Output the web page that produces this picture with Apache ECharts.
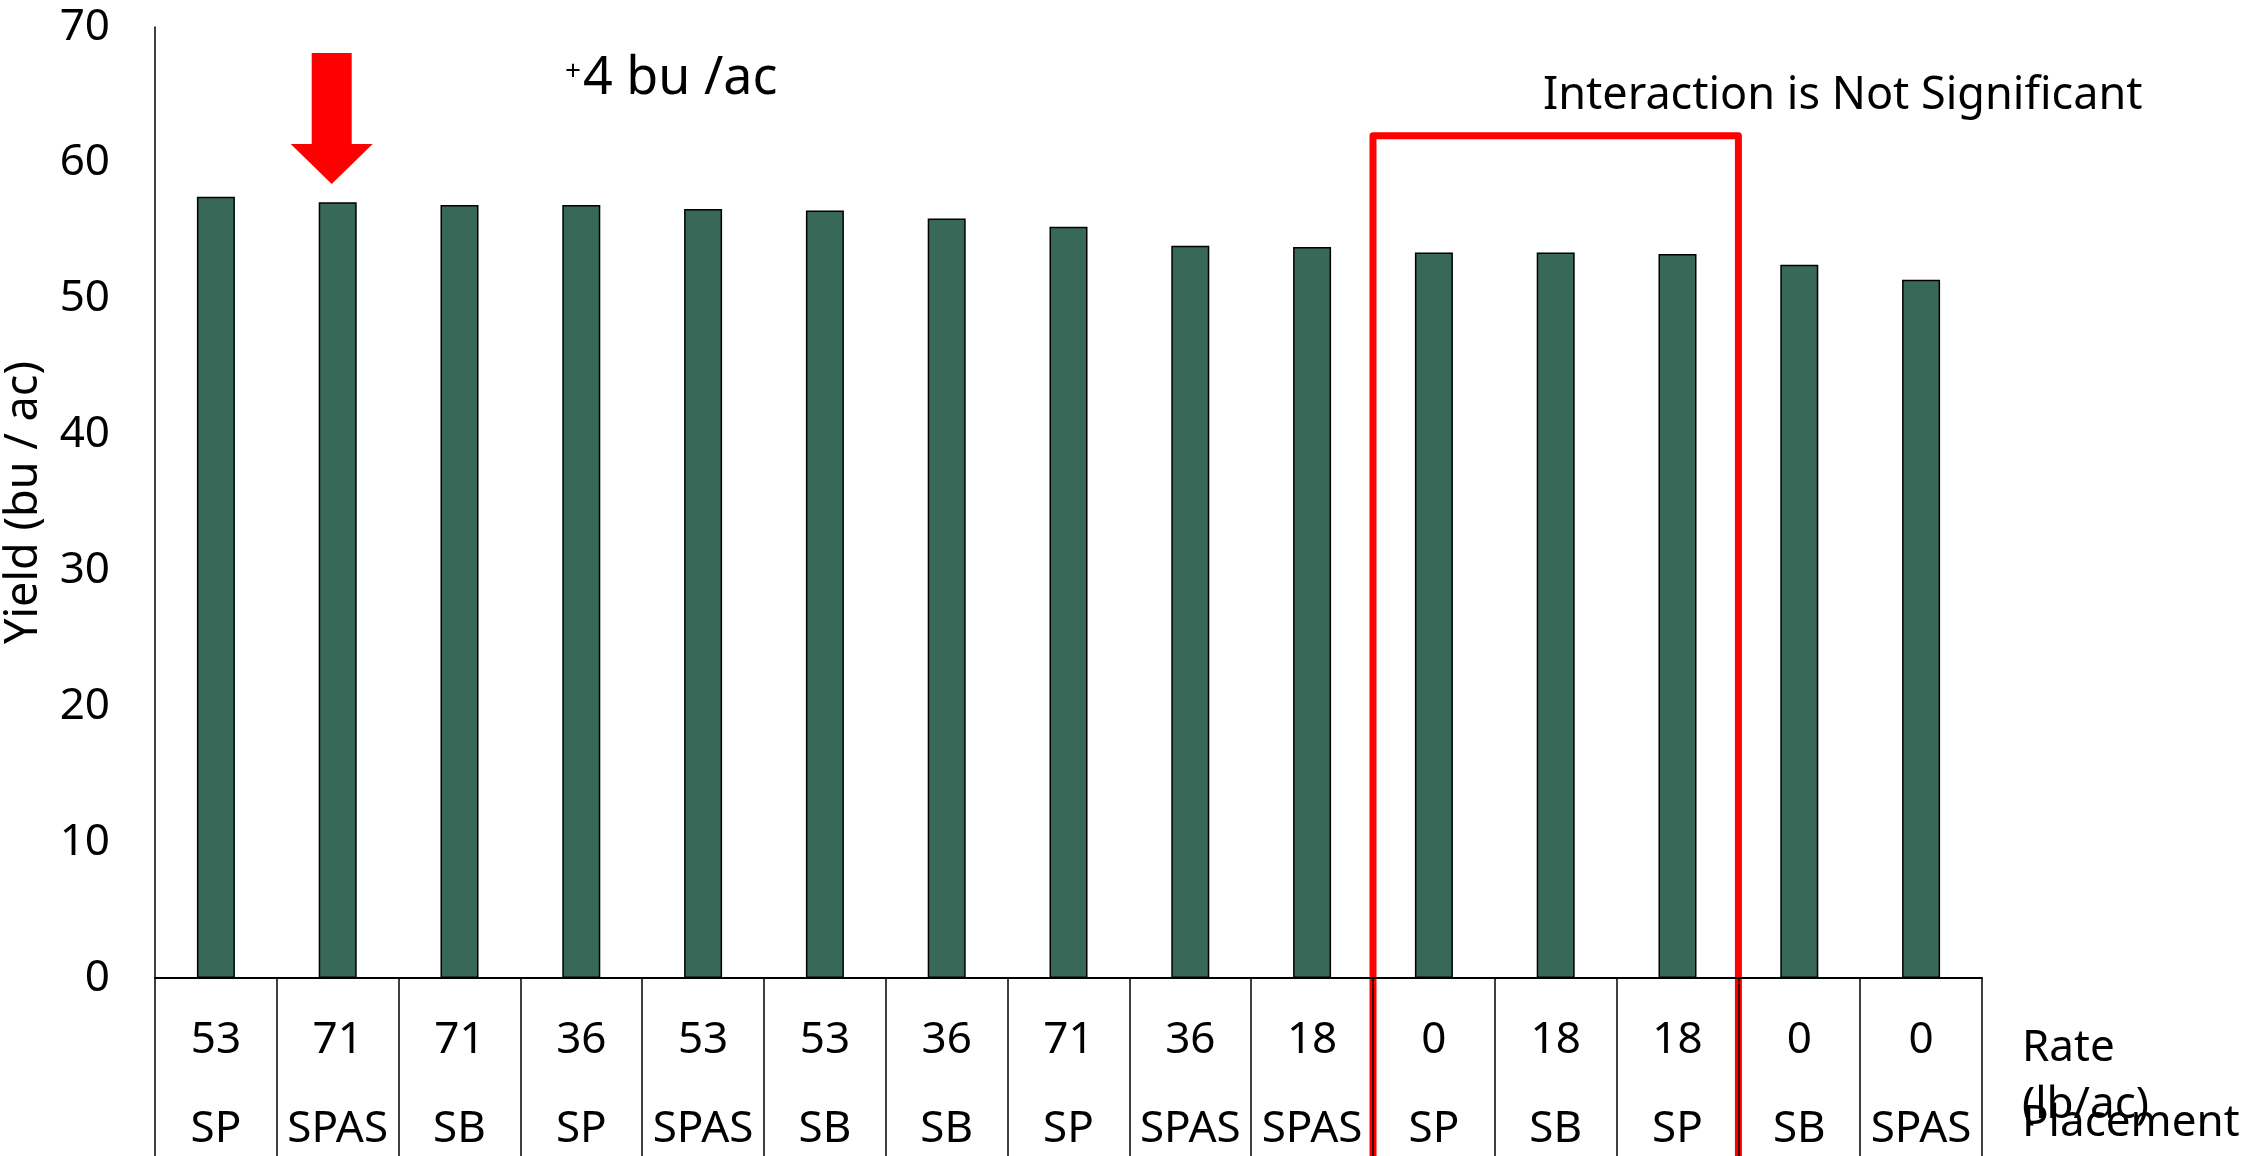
<!DOCTYPE html>
<html>
<head>
<meta charset="utf-8">
<script src="https://cdn.jsdelivr.net/npm/echarts@6/dist/echarts.min.js"></script>
<style>
  html, body { margin: 0; padding: 0; background: #fff; }
  #chart { width: 2243px; height: 1156px; }
</style>
</head>
<body>
<div id="chart"></div>
<script>
// rate (lb/ac) and placement for each treatment, left to right
const rates = ['53', '71', '71', '36', '53', '53', '36', '71', '36', '18', '0', '18', '18', '0', '0'];
const placements = ['SP', 'SPAS', 'SB', 'SP', 'SPAS', 'SB', 'SB', 'SP', 'SPAS', 'SPAS', 'SP', 'SB', 'SP', 'SB', 'SPAS'];
// yield, bu / ac
const yields = [57.5, 57.1, 56.9, 56.9, 56.6, 56.5, 55.9, 55.3, 53.9, 53.8, 53.4, 53.4, 53.3, 52.5, 51.4];

const yMin = 0;
const yMax = 70;
const yStep = 10;

// annotations
const arrowIndex = 1;            // points at 71 SPAS
const boxFrom = 10, boxTo = 12;  // red box round 0 SP .. 18 SP
const boxTopValue = 62;

const categories = rates.map((r, i) => r + '\n' + placements[i]);
const font = 'Noto Sans';

const myChart = echarts.init(document.getElementById('chart'));

const option = {
  animation: false,
  textStyle: { fontFamily: font },
  grid: {
    left: 155,
    right: 261,
    top: 27,
    bottom: 178,
    outerBoundsMode: 'none'  // keep the plot where it is, labels may run off the page
  },
  xAxis: {
    type: 'category',
    data: categories,
    boundaryGap: true,
    axisLine: {
      show: true,
      lineStyle: { color: '#000', width: 2 }
    },
    axisTick: {
      show: true,
      length: 190,   // tick lines run down as the table separators
      lineStyle: { color: '#000', width: 1.5 }
    },
    axisLabel: {
      interval: 0,
      color: '#000',
      fontSize: 44,
      fontFamily: font,
      lineHeight: 89,
      margin: 18
    }
  },
  yAxis: {
    type: 'value',
    min: yMin,
    max: yMax,
    interval: yStep,
    name: 'Yield (bu / ac)',
    nameLocation: 'middle',
    nameGap: 108,
    nameTextStyle: { color: '#000', fontSize: 45, fontFamily: font },
    axisLine: {
      show: true,
      lineStyle: { color: '#000', width: 1.5 }
    },
    axisTick: { show: false },
    splitLine: { show: false },
    axisLabel: {
      color: '#000',
      fontSize: 44,
      fontFamily: font,
      margin: 45
    }
  },
  series: [
    {
      type: 'bar',
      data: yields,
      barWidth: 38,
      itemStyle: {
        color: '#386857',
        borderColor: '#000',
        borderWidth: 1.5
      }
    }
  ]
};

myChart.setOption(option);

// annotations placed from the axes' own scales
const px = (i, v) => myChart.convertToPixel({ xAxisIndex: 0, yAxisIndex: 0 }, [i, v]);
const band = px(1, 0)[0] - px(0, 0)[0];
const arrowX = px(arrowIndex, 0)[0] - 6;
const boxLeft = px(boxFrom, 0)[0] - band / 2;
const boxRight = px(boxTo, 0)[0] + band / 2;
const boxTop = px(0, boxTopValue)[1];

myChart.setOption({
  graphic: [
    {
      type: 'polygon',
      shape: {
        points: [
          [arrowX - 20, 53], [arrowX + 20, 53], [arrowX + 20, 144],
          [arrowX + 41, 144], [arrowX, 184], [arrowX - 41, 144], [arrowX - 20, 144]
        ]
      },
      style: { fill: '#ff0000' }
    },
    {
      type: 'text',
      x: 565, y: 72,
      style: { text: '+', fontSize: 28, fontFamily: font, fill: '#000', verticalAlign: 'middle' }
    },
    {
      type: 'text',
      x: 583, y: 79,
      style: { text: '4 bu /ac', fontSize: 52, fontFamily: font, fill: '#000', verticalAlign: 'middle' }
    },
    {
      type: 'polyline',
      shape: {
        points: [[boxLeft, 1180], [boxLeft, boxTop], [boxRight, boxTop], [boxRight, 1180]]
      },
      style: { stroke: '#ff0000', lineWidth: 7, fill: null, lineJoin: 'round' }
    },
    {
      type: 'text',
      x: 1543, y: 96,
      style: { text: 'Interaction is Not Significant', fontSize: 45, fontFamily: font, fill: '#000', verticalAlign: 'middle' }
    },
    {
      type: 'text',
      x: 2022, y: 1020,
      style: { text: 'Rate\n(lb/ac)', fontSize: 44, lineHeight: 57, fontFamily: font, fill: '#000', verticalAlign: 'top' }
    },
    {
      type: 'text',
      x: 2022, y: 1123,
      style: { text: 'Placement', fontSize: 44, fontFamily: font, fill: '#000', verticalAlign: 'middle' }
    }
  ]
});
</script>
</body>
</html>
